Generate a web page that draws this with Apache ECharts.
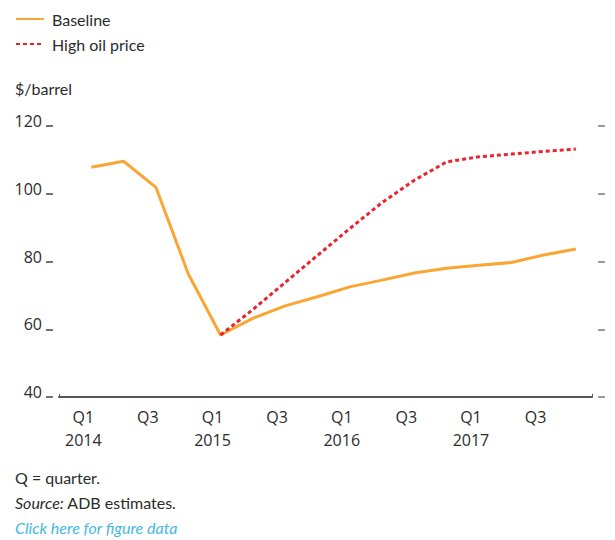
<!DOCTYPE html>
<html>
<head>
<meta charset="utf-8">
<script src="https://cdn.jsdelivr.net/npm/echarts@6/dist/echarts.min.js"></script>
<style>
  html, body { margin: 0; padding: 0; background: #fff; }
  #chart { width: 615px; height: 540px; }
</style>
</head>
<body>
<div id="chart"></div>
<script>
// quarters Q1 2014 .. Q4 2017, index 0..15
var quarterLabels = ['Q1\n2014', '', 'Q3', '', 'Q1\n2015', '', 'Q3', '', 'Q1\n2016', '', 'Q3', '', 'Q1\n2017', '', 'Q3', ''];
var baseline = [107.8, 109.6, 101.9, 76.4, 58.3, 63.2, 66.9, 69.6, 72.5, 74.5, 76.6, 78.0, 78.9, 79.7, 81.9, 83.7];
var highOil = [null, null, null, null, 58.3, 65.8, 73.8, 81.8, 89.7, 97.4, 104.0, 109.4, 110.9, 111.7, 112.5, 113.2];
var yTicks = [40, 60, 80, 100, 120];

(function() {
  var ink = '#2b2b2b';
  var orange = '#f9a634';
  var red = '#e8242d';
  var linkBlue = '#45b8e3';
  var textFont = 'Lato';
  var numFont = 'Open Sans';

  var chart = echarts.init(document.getElementById('chart'), null, { renderer: 'svg' });

  function pairs(arr) {
    return arr.map(function(v, i) { return [i, v]; });
  }

  var labelIdx = [];
  quarterLabels.forEach(function(l, i) { if (l) labelIdx.push(i); });

  var yCommon = {
    type: 'value',
    min: yTicks[0],
    max: yTicks[yTicks.length - 1],
    interval: yTicks[1] - yTicks[0],
    offset: 6,
    splitLine: { show: false }
  };

  chart.setOption({
    animation: false,
    legend: {
      orient: 'vertical',
      left: 10,
      top: 6,
      itemWidth: 28,
      itemHeight: 14,
      itemGap: 9,
      data: ['Baseline', 'High oil price'],
      itemStyle: { opacity: 0 },
      textStyle: { color: ink, fontFamily: textFont, fontSize: 16, padding: [0, 0, 0, 3] }
    },
    grid: { left: 59, right: 23, top: 126, bottom: 143 },
    xAxis: {
      type: 'value',
      min: -1,
      max: 15.5,
      splitLine: { show: false },
      axisLine: { show: true, onZero: false, lineStyle: { color: '#555', width: 2 } },
      axisTick: {
        show: true, inside: true, length: 3,
        customValues: [-1, 15.5],
        lineStyle: { color: '#555', width: 1 }
      },
      axisLabel: {
        customValues: labelIdx,
        formatter: function(v) { return quarterLabels[Math.round(v)] || ''; },
        color: ink,
        fontFamily: numFont,
        fontSize: 16,
        lineHeight: 23,
        margin: 8,
        padding: [0, 16, 0, 0]
      }
    },
    yAxis: [Object.assign({}, yCommon, {
      position: 'left',
      axisLine: { show: false, onZero: false },
      axisTick: { show: true, length: 7, lineStyle: { color: '#444', width: 1.5 } },
      axisLabel: {
        color: ink,
        fontFamily: numFont,
        fontSize: 16,
        margin: 11,
        verticalAlign: 'bottom',
        lineHeight: 10
      }
    }), Object.assign({}, yCommon, {
      position: 'right',
      axisLine: { show: false, onZero: false },
      axisTick: { show: true, length: 7, lineStyle: { color: '#777', width: 1.5 } },
      axisLabel: { show: false }
    })],
    series: [{
      name: 'Baseline',
      type: 'line',
      symbol: 'none',
      lineStyle: { color: orange, width: 3 },
      itemStyle: { color: orange },
      data: pairs(baseline)
    }, {
      name: 'High oil price',
      type: 'line',
      symbol: 'none',
      lineStyle: { color: red, width: 3, type: [4, 3] },
      itemStyle: { color: red },
      data: pairs(highOil),
      z: 3
    }],
    graphic: [{
      type: 'text', left: 15, top: 80,
      style: { text: '$/barrel', fill: ink, font: '16px ' + textFont }
    }, {
      type: 'text', left: 15, top: 469,
      style: { text: 'Q = quarter.', fill: ink, font: '16px ' + textFont }
    }, {
      type: 'text', left: 15, top: 494,
      style: {
        text: '{i|Source:} ADB estimates.',
        fill: ink, font: '16px ' + textFont,
        rich: { i: { fontStyle: 'italic', fontFamily: textFont, fontSize: 16, fill: ink } }
      }
    }, {
      type: 'text', left: 15, top: 519,
      style: { text: 'Click here for figure data', fill: linkBlue, font: 'italic 16px ' + textFont }
    }]
  });
})();
</script>
</body>
</html>
